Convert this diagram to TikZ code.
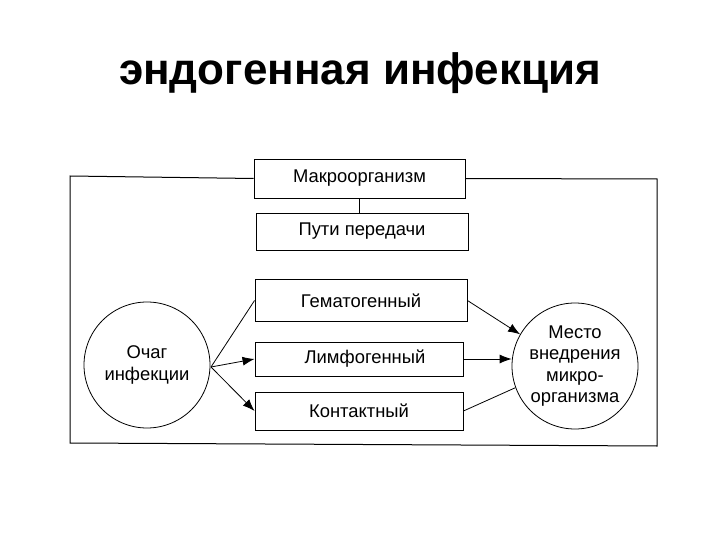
\documentclass[tikz,border=0pt]{standalone}
\usepackage{fontspec}
\setmainfont{Liberation Sans}
\usetikzlibrary{arrows.meta}
\begin{document}
\begin{tikzpicture}[x=1pt,y=-1pt,
  box/.style={draw,line width=0.9pt,inner sep=0pt,font=\fontsize{18.4}{20}\selectfont},
  circ/.style={draw,circle,line width=0.8pt,minimum size=126pt,inner sep=0pt,align=center,font=\fontsize{18.4}{21.5}\selectfont},
  link/.style={line width=0.8pt},
  arr/.style={line width=0.8pt,-{Latex[length=12pt,width=9pt]}},
  frame/.style={line width=1pt}]
\useasboundingbox (0,0) rectangle (720,540);
\node[font=\fontsize{44}{50}\selectfont\bfseries] (title) at (360,73) {эндогенная инфекция};
\node[box,minimum width=211pt,minimum height=39pt] (makro) at (359.5,178.5) {Макроорганизм};
\node[box,minimum width=212pt,minimum height=37pt] (puti) at (362,231.5) {Пути передачи};
\node[box,minimum width=212pt,minimum height=42pt] (gem) at (361,300.5) {Гематогенный};
\node[box,minimum width=208pt,minimum height=34pt] (limf) at (359,359) {\hspace*{12pt}Лимфогенный};
\node[box,minimum width=208pt,minimum height=38pt] (kont) at (359,411) {Контактный};
\node[circ] (ochag) at (147,365) {Очаг\\инфекции};
\node[circ] (mesto) at (575,366) {Место\\внедрения\\микро-\\организма};
\coordinate (fTL) at (70,176);
\coordinate (fBL) at (70,443);
\coordinate (fBR) at (657,446);
\coordinate (fTR) at (657,179);
\draw[frame] (makro.west) -- (fTL) -- (fBL) -- (fBR) -- (fTR) -- (makro.east);
\draw[link] (makro.south) -- (puti.north -| makro.south);
\coordinate (os) at (211,367);
\draw[link] (os) -- (gem.west);
\draw[arr] (os) -- (limf.west);
\draw[arr] (os) -- (kont.west);
\draw[arr] (gem.east) -- (mesto.150);
\draw[arr] (limf.east) -- (mesto.west |- limf.east);
\draw[link] (kont.east) -- (mesto.200);
\end{tikzpicture}
\end{document}
